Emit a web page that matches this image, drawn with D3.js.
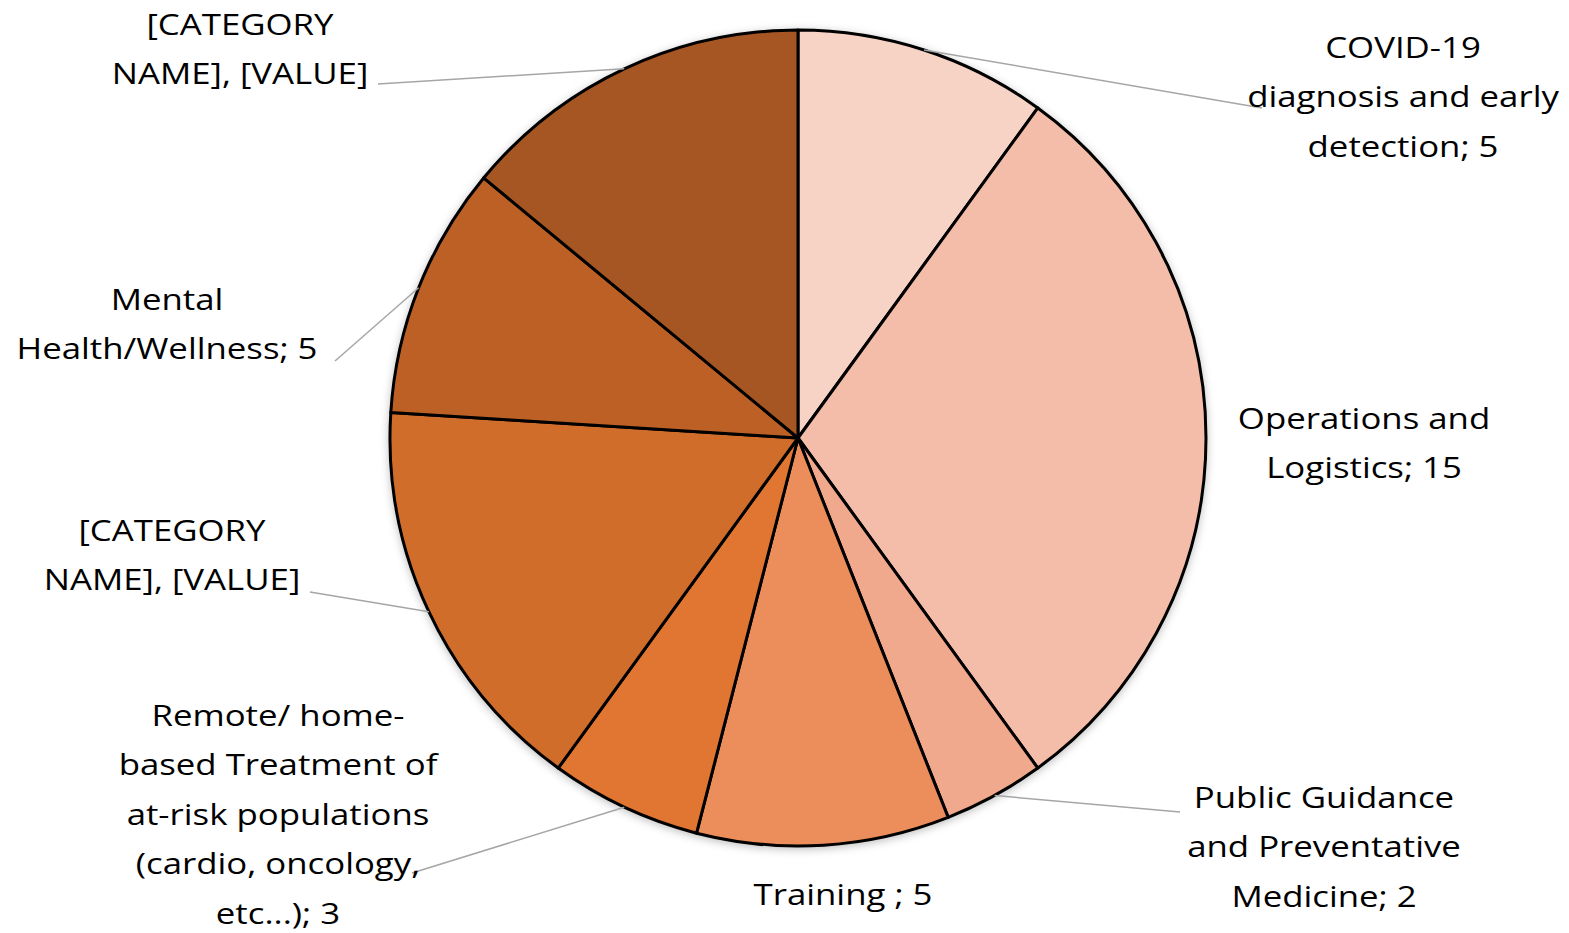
<!DOCTYPE html>
<html lang="en">
<head>
    <meta charset="UTF-8">
    <title>Pie Chart with D3.js</title>
    <style>
        body { margin: 0; background: #fff; }
        .slice { stroke: #000; stroke-width: 3px; }
        .leader { stroke: #a6a6a6; stroke-width: 1.5px; fill: none; }
        .label { font-family: "Open Sans", sans-serif; font-size: 30px; fill: #000; }
    </style>
    <script src="https://d3js.org/d3.v7.min.js"></script>
</head>
<body>
    <svg width="1569" height="933"></svg>
    <script>
        const categories = [
            "COVID-19 diagnosis and early detection",
            "Operations and Logistics",
            "Public Guidance and Preventative Medicine",
            "Training",
            "Remote/ home-based Treatment of at-risk populations (cardio, oncology, etc...)",
            "[CATEGORY NAME]",
            "Mental Health/Wellness",
            "[CATEGORY NAME]"
        ];
        const values = [5, 15, 2, 5, 3, 8, 5, 7];
        const labelLines = [
            ["COVID-19", "diagnosis and early", "detection; 5"],
            ["Operations and", "Logistics; 15"],
            ["Public Guidance", "and Preventative", "Medicine; 2"],
            ["Training ; 5"],
            ["Remote/ home-", "based Treatment of", "at-risk populations", "(cardio, oncology,", "etc...); 3"],
            ["[CATEGORY", "NAME], [VALUE]"],
            ["Mental", "Health/Wellness; 5"],
            ["[CATEGORY", "NAME], [VALUE]"]
        ];
        const colors = ["#f7d3c5", "#f3bda9", "#f0a98d", "#ec8d5b", "#e07631", "#d16d2c", "#bd6126", "#a55722"];

        const width = 1569;
        const height = 933;
        const cx = 798, cy = 438, radius = 408;
        const lineH = 49.5;
        const stretch = 1.16; // reference text is wider than the fallback font

        // label block centre x, first baseline y, and leader end point (null = no leader)
        const labelLayout = [
            { x: 1403, y: 58, end: [1262, 108] },
            { x: 1364, y: 429, end: null },
            { x: 1324, y: 808, end: [1180, 812] },
            { x: 843, y: 905, end: null },
            { x: 278, y: 726, end: [412, 873] },
            { x: 172, y: 541, end: [310, 592] },
            { x: 167, y: 310, end: [335, 361] },
            { x: 240, y: 35, end: [378, 84] }
        ];

        const svg = d3.select("svg")
            .attr("width", width)
            .attr("height", height);

        const defs = svg.append("defs");
        const shadow = defs.append("filter").attr("id", "shadow")
            .attr("x", "-10%").attr("y", "-10%").attr("width", "120%").attr("height", "120%");
        shadow.append("feDropShadow")
            .attr("dx", 0).attr("dy", 2).attr("stdDeviation", 4)
            .attr("flood-color", "#000").attr("flood-opacity", 0.25);

        const pie = d3.pie().sort(null).value(d => d)(values);
        const arc = d3.arc().innerRadius(0).outerRadius(radius);

        const g = svg.append("g").attr("transform", `translate(${cx},${cy})`);

        g.append("g").attr("filter", "url(#shadow)")
            .selectAll("path")
            .data(pie)
            .enter().append("path")
            .attr("class", "slice")
            .attr("fill", (d, i) => colors[i])
            .attr("stroke-linejoin", "round")
            .attr("d", arc);

        // leader lines from the slice edge to the label
        svg.append("g")
            .selectAll("line")
            .data(pie.filter((d, i) => labelLayout[i].end))
            .enter().append("line")
            .attr("class", "leader")
            .attr("x1", d => cx + radius * Math.sin((d.startAngle + d.endAngle) / 2))
            .attr("y1", d => cy - radius * Math.cos((d.startAngle + d.endAngle) / 2))
            .attr("x2", d => labelLayout[d.index].end[0])
            .attr("y2", d => labelLayout[d.index].end[1]);

        const labels = svg.append("g")
            .selectAll("text")
            .data(labelLines)
            .enter().append("text")
            .attr("class", "label")
            .attr("text-anchor", "middle")
            .attr("transform", (d, i) => `translate(${labelLayout[i].x},${labelLayout[i].y}) scale(${stretch},1)`);

        labels.selectAll("tspan")
            .data(d => d)
            .enter().append("tspan")
            .attr("x", 0)
            .attr("dy", (d, j) => j === 0 ? 0 : lineH)
            .text(d => d);

        labels.append("title").text((d, i) => categories[i] + ": " + values[i]);
    </script>
</body>
</html>
